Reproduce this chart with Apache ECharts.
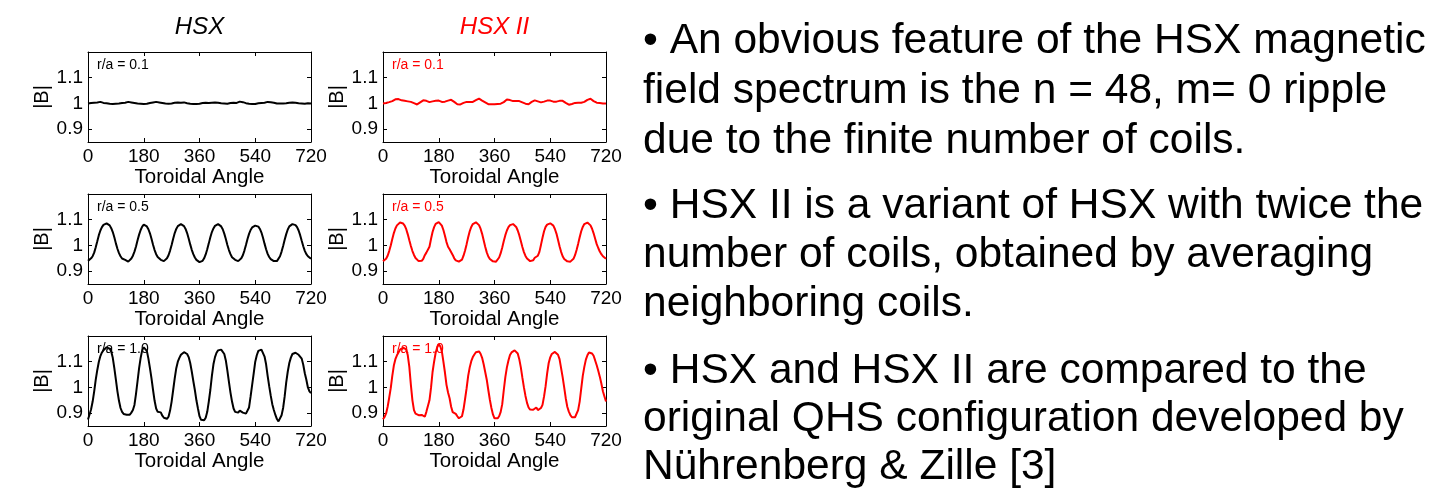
<!DOCTYPE html>
<html><head><meta charset="utf-8">
<script src="https://cdn.jsdelivr.net/npm/echarts@6/dist/echarts.min.js"></script>
<style>html,body{margin:0;padding:0;background:#fff}#c{width:1431px;height:491px}</style>
</head><body><div id="c"></div>
<script>
// ---------------- data ----------------
const angles = [0,5,10,15,20,25,30,35,40,45,50,55,60,65,70,75,80,85,90,95,100,105,110,115,120,
125,130,135,140,145,150,155,160,165,170,175,180,185,190,195,200,205,210,215,220,225,230,235,240,
245,250,255,260,265,270,275,280,285,290,295,300,305,310,315,320,325,330,335,340,345,350,355,360,
365,370,375,380,385,390,395,400,405,410,415,420,425,430,435,440,445,450,455,460,465,470,475,480,
485,490,495,500,505,510,515,520,525,530,535,540,545,550,555,560,565,570,575,580,585,590,595,600,
605,610,615,620,625,630,635,640,645,650,655,660,665,670,675,680,685,690,695,700,705,710,715,720];

const hsx_r01 = [1.000,1.001,1.002,1.000,1.003,1.002,1.004,1.003,1.006,1.007,1.002,1.004,1.001,1.002,0.999,1.001,0.998,1.000,0.999,1.001,1.000,1.003,1.002,1.004,1.003,
1.005,1.006,1.008,1.004,1.005,1.002,1.003,1.000,1.001,0.999,1.000,0.998,1.000,0.999,1.001,1.002,1.001,1.004,1.003,1.006,1.003,1.004,1.001,1.002,
0.999,1.000,0.998,0.999,0.998,1.000,1.001,1.003,1.002,1.004,1.005,1.003,1.006,1.004,1.003,1.001,1.002,0.999,1.000,0.998,0.999,0.998,1.000,0.999,
1.001,1.002,1.001,1.003,1.004,1.002,1.005,1.003,1.006,1.004,1.002,1.003,1.000,1.001,0.999,1.000,0.998,0.999,1.000,1.002,1.001,1.003,1.004,1.002,
1.005,1.007,1.004,1.005,1.003,1.001,1.002,0.999,1.000,0.998,0.999,0.998,1.000,1.001,1.000,1.002,1.004,1.003,1.005,1.006,1.004,1.005,1.002,1.003,
1.001,1.000,0.999,1.000,0.998,1.000,0.999,1.001,1.000,1.003,1.002,1.004,1.005,1.003,1.002,1.001,1.002,1.000,1.001,0.999,1.000,1.001,1.000,1.000];

const hsx2_r01 = [1.000,1.001,1.002,1.003,1.005,1.007,1.009,1.012,1.016,1.019,1.017,1.014,1.012,1.011,1.010,1.009,1.008,1.007,1.006,1.004,1.001,0.998,0.996,1.000,1.004,
1.008,1.012,1.012,1.010,1.007,1.005,1.006,1.008,1.009,1.010,1.012,1.011,1.009,1.006,1.005,1.007,1.009,1.011,1.013,1.014,1.011,1.006,1.001,0.997,
0.994,0.996,0.999,1.002,1.004,1.006,1.006,1.006,1.006,1.006,1.009,1.013,1.016,1.019,1.015,1.011,1.008,1.004,0.999,0.997,0.997,0.997,0.997,0.997,
0.998,0.998,0.999,0.999,1.000,1.005,1.010,1.015,1.016,1.013,1.010,1.009,1.009,1.009,1.009,1.009,1.007,1.004,1.001,0.999,0.997,0.997,1.002,1.006,
1.010,1.012,1.010,1.008,1.006,1.004,1.005,1.007,1.009,1.011,1.012,1.011,1.009,1.007,1.006,1.007,1.009,1.010,1.012,1.010,1.006,1.002,0.998,0.995,
0.996,0.998,1.000,1.002,1.003,1.003,1.003,1.003,1.003,1.006,1.010,1.014,1.018,1.018,1.014,1.009,1.005,1.003,1.003,1.002,1.001,1.000,1.000,1.000];

const hsx_r05 = [0.940,0.945,0.950,0.958,0.972,0.993,1.016,1.040,1.058,1.071,1.080,1.085,1.086,1.084,1.078,1.067,1.052,1.032,1.008,0.987,0.970,0.958,0.949,0.946,0.944,
0.938,0.937,0.941,0.949,0.960,0.976,0.996,1.020,1.042,1.060,1.073,1.081,1.080,1.074,1.063,1.047,1.026,1.003,0.982,0.966,0.955,0.948,0.944,0.941,
0.939,0.942,0.950,0.962,0.980,1.002,1.026,1.048,1.064,1.075,1.081,1.083,1.081,1.075,1.064,1.048,1.027,1.004,0.983,0.966,0.953,0.944,0.938,0.935,
0.935,0.940,0.950,0.965,0.985,1.008,1.032,1.052,1.066,1.076,1.081,1.083,1.081,1.074,1.063,1.046,1.025,1.002,0.982,0.966,0.954,0.947,0.944,0.940,
0.939,0.942,0.950,0.962,0.980,1.002,1.025,1.045,1.060,1.070,1.075,1.077,1.077,1.073,1.064,1.050,1.030,1.007,0.985,0.967,0.955,0.947,0.942,0.939,
0.937,0.939,0.946,0.958,0.976,0.998,1.022,1.044,1.062,1.074,1.080,1.083,1.083,1.079,1.071,1.058,1.040,1.018,0.997,0.979,0.966,0.958,0.952,0.948];

const hsx2_r05 = [0.939,0.942,0.948,0.960,0.978,1.000,1.025,1.048,1.066,1.078,1.085,1.089,1.088,1.085,1.077,1.063,1.043,1.020,0.998,0.978,0.963,0.951,0.944,0.939,0.937,
0.940,0.948,0.962,0.972,0.978,0.995,1.025,1.052,1.071,1.084,1.090,1.091,1.087,1.077,1.060,1.038,1.013,0.995,0.985,0.978,0.963,0.950,0.942,0.938,
0.937,0.938,0.945,0.960,0.980,1.005,1.032,1.055,1.072,1.083,1.089,1.090,1.087,1.079,1.065,1.045,1.020,0.995,0.973,0.957,0.947,0.941,0.938,0.936,
0.937,0.942,0.953,0.970,0.992,1.017,1.040,1.058,1.071,1.079,1.083,1.083,1.080,1.072,1.058,1.040,1.017,0.994,0.974,0.959,0.949,0.942,0.939,0.938,
0.942,0.952,0.958,0.960,0.975,1.002,1.030,1.055,1.072,1.081,1.085,1.086,1.084,1.077,1.064,1.046,1.022,0.997,0.975,0.958,0.947,0.941,0.938,0.937,
0.937,0.940,0.948,0.962,0.982,1.006,1.032,1.055,1.072,1.083,1.088,1.089,1.086,1.078,1.065,1.047,1.026,1.005,0.990,0.976,0.966,0.958,0.952,0.948];

const hsx_r10 = [0.875,0.895,0.915,0.945,0.985,1.030,1.068,1.100,1.122,1.136,1.145,1.152,1.156,1.155,1.151,1.140,1.115,1.075,1.030,0.985,0.948,0.920,0.905,0.897,0.892,
0.894,0.898,0.894,0.902,0.912,0.932,0.975,1.025,1.075,1.115,1.145,1.156,1.152,1.142,1.112,1.075,1.035,0.990,0.948,0.918,0.905,0.900,0.903,0.890,
0.882,0.878,0.878,0.886,0.910,0.945,0.990,1.035,1.075,1.100,1.115,1.127,1.133,1.137,1.135,1.130,1.118,1.095,1.062,1.025,0.990,0.950,0.918,0.888,
0.874,0.868,0.872,0.882,0.905,0.945,0.990,1.045,1.090,1.118,1.135,1.144,1.148,1.147,1.140,1.130,1.105,1.065,1.022,0.980,0.945,0.918,0.905,0.898,
0.902,0.910,0.912,0.902,0.897,0.898,0.900,0.922,0.965,1.010,1.055,1.100,1.125,1.142,1.147,1.147,1.140,1.120,1.090,1.045,1.005,0.968,0.935,0.912,
0.893,0.877,0.868,0.872,0.892,0.920,0.965,1.020,1.062,1.095,1.116,1.130,1.137,1.135,1.132,1.127,1.122,1.112,1.088,1.055,1.030,1.000,0.985,0.978];

const hsx2_r10 = [0.876,0.885,0.899,0.925,0.960,0.997,1.045,1.085,1.110,1.125,1.136,1.147,1.152,1.155,1.155,1.148,1.125,1.080,1.010,0.950,0.912,0.898,0.893,0.892,0.891,
0.893,0.896,0.886,0.905,0.912,0.950,0.998,1.060,1.100,1.135,1.156,1.168,1.160,1.140,1.100,1.058,1.010,0.980,0.958,0.925,0.904,0.900,0.897,0.888,
0.880,0.879,0.888,0.915,0.955,0.997,1.045,1.078,1.102,1.118,1.128,1.137,1.142,1.140,1.131,1.115,1.090,1.060,1.030,0.990,0.952,0.920,0.895,0.880,
0.877,0.880,0.888,0.905,0.935,0.990,1.040,1.078,1.105,1.126,1.136,1.141,1.144,1.140,1.132,1.110,1.078,1.038,1.000,0.967,0.940,0.922,0.914,0.911,
0.913,0.917,0.922,0.912,0.914,0.920,0.932,0.965,1.005,1.055,1.095,1.117,1.130,1.136,1.138,1.135,1.127,1.110,1.075,1.040,1.000,0.958,0.925,0.906,
0.892,0.884,0.881,0.884,0.891,0.912,0.945,0.995,1.045,1.080,1.108,1.125,1.136,1.137,1.132,1.123,1.105,1.086,1.065,1.042,1.015,0.985,0.965,0.945];

const columnTitles = ['HSX', 'HSX II'];
const radiusLabels = ['r/a = 0.1', 'r/a = 0.5', 'r/a = 1.0'];
const xTickValues = [0, 180, 360, 540, 720];
const yTickValues = [0.9, 1, 1.1];
const xAxisTitle = 'Toroidal Angle';
const yAxisTitle = '|B|';
const bulletLines = [
  '\u2022 An obvious feature of the HSX magnetic',
  'field spectrum is the n = 48, m= 0 ripple',
  'due to the finite number of coils.',
  '\u2022 HSX II is a variant of HSX with twice the',
  'number of coils, obtained by averaging',
  'neighboring coils.',
  '\u2022 HSX and HSX II are compared to the',
  'original QHS configuration developed by',
  'N\u00fchrenberg & Zille [3]'
];

// ---------------- layout / style ----------------
const FONT = '"Liberation Sans", Arial, Helvetica, sans-serif';
const colLeft = [88, 383];
const rowTop = [52, 194, 336];
const PW = 223, PH = 90;
const colColor = ['#000000', '#ff0000'];
const seriesGrid = [
  [hsx_r01, hsx2_r01],
  [hsx_r05, hsx2_r05],
  [hsx_r10, hsx2_r10]
];
const lineCenters = [41, 91, 141, 206, 255, 304, 371, 419, 467];

const grids = [], xAxes = [], yAxes = [], series = [], graphics = [];
let gi = 0;
for (let r = 0; r < 3; r++) {
  for (let c = 0; c < 2; c++) {
    grids.push({left: colLeft[c], top: rowTop[r], width: PW, height: PH, containLabel: false,
      show: false});
    const tick = {show: true, inside: true, length: 4, lineStyle: {color: '#000', width: 1}};
    const axLine = {show: true, onZero: false, lineStyle: {color: '#000', width: 1}};
    xAxes.push({gridIndex: gi, type: 'value', position: 'bottom', min: 0, max: 720, interval: 180,
      axisLine: axLine, axisTick: tick, splitLine: {show: false},
      axisLabel: {show: true, fontSize: 19, color: '#000', fontFamily: FONT, margin: 5,
        customValues: xTickValues},
      name: xAxisTitle, nameLocation: 'middle', nameGap: 23,
      nameTextStyle: {fontSize: 20.5, color: '#000', fontFamily: FONT}});
    xAxes.push({gridIndex: gi, type: 'value', position: 'top', min: 0, max: 720, interval: 180,
      axisLine: axLine, axisTick: tick, splitLine: {show: false}, axisLabel: {show: false}});
    yAxes.push({gridIndex: gi, type: 'value', position: 'left', min: 0.85, max: 1.2,
      axisLine: axLine, splitLine: {show: false},
      axisTick: Object.assign({}, tick, {customValues: yTickValues}),
      axisLabel: {show: true, fontSize: 19, color: '#000', fontFamily: FONT, margin: 5,
        customValues: yTickValues},
      name: yAxisTitle, nameLocation: 'middle', nameGap: 31, nameRotate: 90,
      nameTextStyle: {fontSize: 20, color: '#000', fontFamily: FONT}});
    yAxes.push({gridIndex: gi, type: 'value', position: 'right', min: 0.85, max: 1.2,
      axisLine: axLine, splitLine: {show: false},
      axisTick: Object.assign({}, tick, {customValues: yTickValues}),
      axisLabel: {show: false}});
    const vals = seriesGrid[r][c];
    series.push({type: 'line', xAxisIndex: 2 * gi, yAxisIndex: 2 * gi,
      data: angles.map((a, k) => [a, vals[k]]),
      showSymbol: false, symbol: 'none', clip: true,
      lineStyle: {color: colColor[c], width: 2}, animation: false});
    graphics.push({type: 'text', x: colLeft[c] + 9, y: rowTop[r] + 13, z: 100,
      style: {text: radiusLabels[r], fill: colColor[c], font: '14px ' + FONT,
        textAlign: 'left', textVerticalAlign: 'middle'}});
    gi++;
  }
}
for (let c = 0; c < 2; c++) {
  graphics.push({type: 'text', x: colLeft[c] + PW / 2, y: 27,
    style: {text: columnTitles[c], fill: colColor[c], font: 'italic 24px ' + FONT,
      textAlign: 'center', textVerticalAlign: 'middle'}});
}
bulletLines.forEach((t, i) => {
  graphics.push({type: 'text', x: 643, y: lineCenters[i],
    style: {text: t, fill: '#000', font: '42.5px ' + FONT,
      textAlign: 'left', textVerticalAlign: 'middle'}});
});

const chart = echarts.init(document.getElementById('c'), null, {renderer: 'canvas'});
chart.setOption({
  backgroundColor: '#ffffff',
  animation: false,
  grid: grids, xAxis: xAxes, yAxis: yAxes, series: series,
  graphic: graphics
});
</script></body></html>
